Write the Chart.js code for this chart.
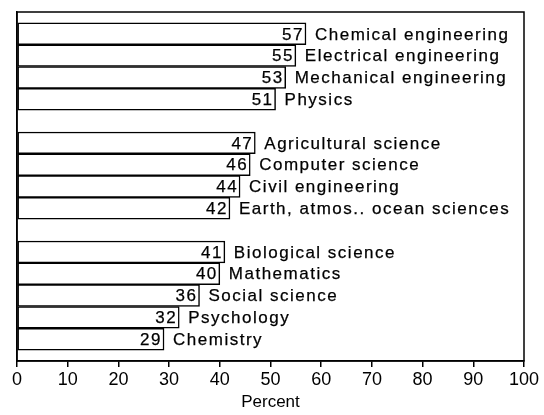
<!DOCTYPE html>
<html>
<head>
<meta charset="utf-8">
<script src="https://cdn.jsdelivr.net/npm/chart.js@4"></script>
<style>
  html, body { margin: 0; padding: 0; background: #fff; }
  #wrap { width: 544px; height: 415px; }
</style>
</head>
<body>
<div id="wrap"><canvas id="fieldsChart" width="544" height="415"></canvas></div>
<script>
// Vakgebieden (lege labels = witruimte tussen de groepen en aan de randen)
var fields = ['', 'Chemical engineering', 'Electrical engineering', 'Mechanical engineering', 'Physics',
              '', 'Agricultural science', 'Computer science', 'Civil engineering', 'Earth, atmos.. ocean sciences',
              '', 'Biological science', 'Mathematics', 'Social science', 'Psychology', 'Chemistry', ''];
// Percentages per vakgebied
var percents = [null, 57, 55, 53, 51, null, 47, 46, 44, 42, null, 41, 40, 36, 32, 29, null];
// X-as labels
var xTicks = [0, 10, 20, 30, 40, 50, 60, 70, 80, 90, 100];
var xTitle = 'Percent';

var textFont = '17px "Liberation Sans", Arial, sans-serif';

// Tekent het getal in de balk en de naam rechts ervan, plus het kader
var barLabels = {
    id: 'barLabels',
    afterDatasetsDraw: function (chart) {
        var ctx = chart.ctx;
        var meta = chart.getDatasetMeta(0);
        ctx.save();
        ctx.font = textFont;
        ctx.letterSpacing = '1.5px';
        ctx.fillStyle = '#000';
        ctx.strokeStyle = '#000';
        ctx.lineWidth = 0.25;
        ctx.textBaseline = 'middle';
        meta.data.forEach(function (bar, i) {
            if (percents[i] === null) return;
            ctx.textAlign = 'right';
            ctx.fillText(String(percents[i]), bar.x - 2, bar.y + 1);
            ctx.strokeText(String(percents[i]), bar.x - 2, bar.y + 1);
            ctx.textAlign = 'left';
            ctx.fillText(fields[i], bar.x + 9, bar.y + 1);
            ctx.strokeText(fields[i], bar.x + 9, bar.y + 1);
        });
        // kader rond het plotgebied
        var a = chart.chartArea;
        ctx.lineWidth = 1.5;
        ctx.strokeRect(a.left, a.top, a.right - a.left, a.bottom - a.top);
        ctx.restore();
    }
};

var ctx = document.getElementById('fieldsChart').getContext('2d');

new Chart(ctx, {
    type: 'bar',
    data: {
        labels: fields,
        datasets: [{
            data: percents,
            backgroundColor: '#fff',
            borderColor: '#000',
            borderWidth: 1.5,
            borderSkipped: false,
            barPercentage: 1,
            categoryPercentage: 1
        }]
    },
    options: {
        indexAxis: 'y',
        responsive: false,
        animation: false,
        layout: { padding: { left: 9, right: 20, top: 12, bottom: 2 } },
        plugins: {
            legend: { display: false },
            tooltip: { enabled: false }
        },
        scales: {
            y: {
                type: 'category',
                offset: false,
                ticks: { display: false },
                grid: { display: false },
                border: { display: true, color: '#000', width: 1.5 }
            },
            x: {
                min: 0,
                max: 100,
                afterBuildTicks: function (scale) {
                    scale.ticks = xTicks.map(function (v) { return { value: v }; });
                },
                ticks: {
                    color: '#000',
                    padding: 2,
                    maxRotation: 0,
                    font: { family: '"Liberation Sans", Arial, sans-serif', size: 18 }
                },
                grid: {
                    drawOnChartArea: false,
                    drawTicks: true,
                    tickLength: 6,
                    color: '#000',
                    lineWidth: 1.5
                },
                border: { display: true, color: '#000', width: 1.5 },
                title: {
                    display: true,
                    text: xTitle,
                    color: '#000',
                    padding: { top: 0, bottom: 0 },
                    font: { family: '"Liberation Sans", Arial, sans-serif', size: 17 }
                }
            }
        }
    },
    plugins: [barLabels]
});
</script>
</body>
</html>
